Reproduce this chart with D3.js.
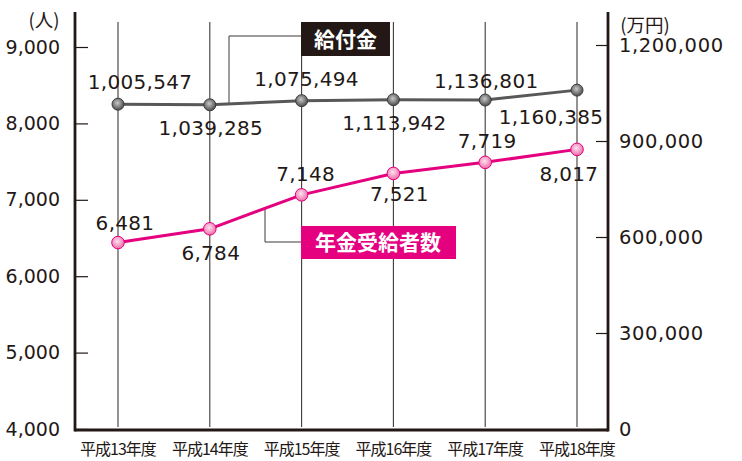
<!DOCTYPE html>
<html lang="ja">
<head>
<meta charset="UTF-8">
<script src="https://d3js.org/d3.v7.min.js"></script>
<style>
    html, body { margin: 0; background: #fff; overflow: hidden; }
    text { font-family: "DejaVu Sans", sans-serif; fill: #231815; }
    .jp { font-family: "Noto Sans CJK JP", sans-serif; }
</style>
<title>年金受給者数と給付金</title>
</head>
<body>
<svg id="svg"></svg>
<script>
    // categories
    const years = ['平成13年度', '平成14年度', '平成15年度', '平成16年度', '平成17年度', '平成18年度'];
    // 年金受給者数 (人): marker heights read on the left axis, and the printed figures
    const recipients = [6440, 6620, 7065, 7345, 7490, 7660];
    const recipientsPrinted = [6481, 6784, 7148, 7521, 7719, 8017];
    // 給付金 (万円): marker heights read on the right axis, and the printed figures
    const benefits = [1015000, 1013000, 1026000, 1029000, 1028000, 1059000];
    const benefitsPrinted = [1005547, 1039285, 1075494, 1113942, 1136801, 1160385];
    // tick labels
    const leftTicks = [4000, 5000, 6000, 7000, 8000, 9000];
    const rightTicks = [0, 300000, 600000, 900000, 1200000];

    const width = 742, height = 461;
    const svg = d3.select('#svg').attr('width', width).attr('height', height);
    const fmt = d3.format(',');

    const axisL = 75, axisR = 608, axisBottom = 430, axisTop = 12;

    const x = d3.scalePoint().domain(years).range([118, 577]);
    const yL = d3.scaleLinear().domain([4000, 9000]).range([429, 47]);
    const yR = d3.scaleLinear().domain([0, 1200000]).range([429, 45]);

    // gradients for the markers
    const defs = svg.append('defs');
    const grad = (id, c0, c1) => {
        const gr = defs.append('radialGradient').attr('id', id)
            .attr('cx', '45%').attr('cy', '40%').attr('r', '60%');
        gr.append('stop').attr('offset', '0%').attr('stop-color', c0);
        gr.append('stop').attr('offset', '100%').attr('stop-color', c1);
    };
    grad('gGray', '#c8c8c8', '#4a4a4a');
    grad('gPink', '#fde3ef', '#ee6aa9');

    // vertical grid lines
    svg.append('g').selectAll('line').data(years).join('line')
        .attr('x1', d => x(d)).attr('x2', d => x(d))
        .attr('y1', 22).attr('y2', 427)
        .attr('stroke', '#3e3a39').attr('stroke-width', 1.1);

    // left axis
    const gL = svg.append('g').attr('transform', `translate(${axisL},0)`)
        .call(d3.axisLeft(yL).tickValues(leftTicks).tickFormat(fmt)
            .tickSizeInner(-13).tickSizeOuter(0).tickPadding(15));
    gL.select('.domain').remove();
    gL.selectAll('.tick line').attr('stroke', '#231815').attr('stroke-width', 1.2);
    gL.selectAll('.tick text').attr('font-size', 19).attr('fill', '#231815')
        .attr('font-family', '"Liberation Sans", Arial, sans-serif');

    // right axis
    const gR = svg.append('g').attr('transform', `translate(${axisR},0)`)
        .call(d3.axisRight(yR).tickValues(rightTicks).tickFormat(fmt)
            .tickSizeInner(-12).tickSizeOuter(0).tickPadding(11));
    gR.select('.domain').remove();
    gR.selectAll('.tick line').attr('stroke', '#231815').attr('stroke-width', 1.2);
    gR.selectAll('.tick text').attr('font-size', 19.5).attr('fill', '#231815')
        .attr('letter-spacing', 0.6)
        .attr('font-family', '"DejaVu Sans", sans-serif');

    // axis frame
    const frame = svg.append('g').attr('stroke', '#231815').attr('stroke-width', 2.8).attr('fill', 'none');
    frame.append('line').attr('x1', axisL).attr('x2', axisL).attr('y1', axisTop).attr('y2', axisBottom + 1.4);
    frame.append('line').attr('x1', axisR).attr('x2', axisR).attr('y1', axisTop).attr('y2', axisBottom + 1.4);
    frame.append('line').attr('x1', axisL).attr('x2', axisR).attr('y1', axisBottom).attr('y2', axisBottom);

    // unit labels
    svg.append('text').attr('class', 'jp').attr('x', 44).attr('y', 27)
        .attr('text-anchor', 'middle').attr('font-size', 18.5).text('(人)');
    svg.append('text').attr('class', 'jp').attr('x', 645).attr('y', 32)
        .attr('text-anchor', 'middle').attr('font-size', 18.5).text('(万円)');

    // x labels
    svg.append('g').selectAll('text').data(years).join('text')
        .attr('class', 'jp')
        .attr('x', d => x(d)).attr('y', 455)
        .attr('text-anchor', 'middle').attr('font-size', 16).attr('letter-spacing', -1)
        .text(d => d);

    // legend callouts (connectors start on the lines)
    const lerp = (arr, scale, i, t) => scale(arr[i]) + (scale(arr[i + 1]) - scale(arr[i])) * t;
    const conn = svg.append('g').attr('stroke', '#3e3a39').attr('stroke-width', 1).attr('fill', 'none');
    const cx1 = 229, t1 = (cx1 - x(years[1])) / (x(years[2]) - x(years[1]));
    conn.append('polyline')
        .attr('points', `${cx1},${lerp(benefits, yR, 1, t1)} ${cx1},36 301,36`);
    const cx2 = 265, t2 = (cx2 - x(years[1])) / (x(years[2]) - x(years[1]));
    conn.append('polyline')
        .attr('points', `${cx2},${lerp(recipients, yL, 1, t2)} ${cx2},242 301,242`);

    // series lines
    const lineR = d3.line().x((d, i) => x(years[i])).y(d => yR(d));
    const lineL = d3.line().x((d, i) => x(years[i])).y(d => yL(d));
    svg.append('path').datum(benefits).attr('d', lineR)
        .attr('fill', 'none').attr('stroke', '#595757').attr('stroke-width', 3);
    svg.append('path').datum(recipients).attr('d', lineL)
        .attr('fill', 'none').attr('stroke', '#e4007f').attr('stroke-width', 3);

    // markers
    svg.append('g').selectAll('circle').data(benefits).join('circle')
        .attr('cx', (d, i) => x(years[i])).attr('cy', d => yR(d)).attr('r', 6)
        .attr('fill', 'url(#gGray)').attr('stroke', '#3e3a39').attr('stroke-width', 1);
    svg.append('g').selectAll('circle').data(recipients).join('circle')
        .attr('cx', (d, i) => x(years[i])).attr('cy', d => yL(d)).attr('r', 6.3)
        .attr('fill', 'url(#gPink)').attr('stroke', '#e4007f').attr('stroke-width', 1);

    // value labels (offsets from each marker)
    const benefitOff = [[22, -15], [1, 30], [5, -15], [1, 30], [1, -12], [-26, 34]];
    const recipOff = [[7, -13], [1, 31], [4, -14], [6, 28], [2, -14], [-8, 32]];
    const labelStyle = sel => sel.attr('text-anchor', 'middle').attr('font-size', 20)
        .attr('letter-spacing', 0.3);
    svg.append('g').selectAll('text').data(benefitsPrinted).join('text')
        .attr('x', (d, i) => x(years[i]) + benefitOff[i][0])
        .attr('y', (d, i) => yR(benefits[i]) + benefitOff[i][1])
        .call(labelStyle)
        .text(d => fmt(d));
    svg.append('g').selectAll('text').data(recipientsPrinted).join('text')
        .attr('x', (d, i) => x(years[i]) + recipOff[i][0])
        .attr('y', (d, i) => yL(recipients[i]) + recipOff[i][1])
        .call(labelStyle)
        .text(d => fmt(d));

    // legend boxes
    svg.append('rect').attr('x', 301).attr('y', 22).attr('width', 89).attr('height', 34).attr('fill', '#231815');
    svg.append('text').attr('class', 'jp').attr('x', 345.5).attr('y', 46.5)
        .attr('text-anchor', 'middle').attr('font-size', 21).attr('font-weight', 700)
        .style('fill', '#fff').text('給付金');
    svg.append('rect').attr('x', 301).attr('y', 226).attr('width', 155).attr('height', 33).attr('fill', '#e4007f');
    svg.append('text').attr('class', 'jp').attr('x', 378).attr('y', 250)
        .attr('text-anchor', 'middle').attr('font-size', 21).attr('font-weight', 700)
        .style('fill', '#fff').text('年金受給者数');
</script>
</body>
</html>
